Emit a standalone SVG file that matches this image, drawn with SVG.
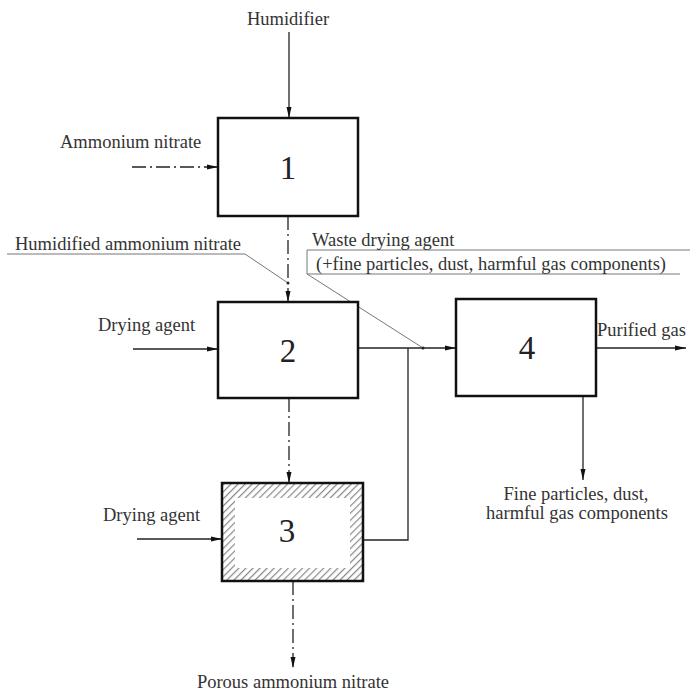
<svg xmlns="http://www.w3.org/2000/svg" width="690" height="692" viewBox="0 0 690 692">
<style>
text{font-family:"Liberation Serif","Times New Roman",serif;fill:#333;font-size:18.5px}
.num{font-size:33px;text-anchor:middle;fill:#222}
.box{fill:#fff;stroke:#111;stroke-width:2.5}
.ln{stroke:#222;stroke-width:1.3;fill:none}
.dd{stroke:#222;stroke-width:1.3;fill:none;stroke-dasharray:14 4 2 4}
.lead{stroke:#777;stroke-width:1;fill:none}
</style>
<defs>
<marker id="ar" markerUnits="userSpaceOnUse" markerWidth="11" markerHeight="6" refX="11" refY="3" orient="auto">
<path d="M0,0.5 L11,3 L0,5.5 z" fill="#111"/>
</marker>
<pattern id="hatch" patternUnits="userSpaceOnUse" width="5" height="5" patternTransform="rotate(45)">
<rect width="5" height="5" fill="#fff"/>
<line x1="0" y1="0" x2="0" y2="5" stroke="#888" stroke-width="2.4"/>
</pattern>
</defs>
<g id="connectors">
<line class="ln" x1="289" y1="32" x2="289" y2="118" marker-end="url(#ar)"/>
<line class="dd" x1="132" y1="167" x2="218" y2="167" marker-end="url(#ar)"/>
<line class="dd" x1="288" y1="216" x2="288" y2="302" marker-end="url(#ar)"/>
<line class="ln" x1="133" y1="349" x2="218" y2="349" marker-end="url(#ar)"/>
<line class="ln" x1="358" y1="348" x2="456" y2="348" marker-end="url(#ar)"/>
<polyline class="ln" points="363,540 408,540 408,348"/>
<line class="dd" x1="289" y1="398" x2="289" y2="483" marker-end="url(#ar)"/>
<line class="ln" x1="137" y1="539" x2="222" y2="539" marker-end="url(#ar)"/>
<line class="dd" x1="293" y1="581" x2="293" y2="668" marker-end="url(#ar)"/>
<line class="ln" x1="596" y1="348" x2="686" y2="348" marker-end="url(#ar)"/>
<line class="ln" x1="583" y1="396" x2="583" y2="480" marker-end="url(#ar)"/>
</g>
<g id="leaders">
<polyline class="lead" points="7,254 245,254 288,283"/>
<circle cx="288" cy="283" r="1.5" fill="#222"/>
<polyline class="lead" points="690,250 307,250 307,274 423,348"/>
<line class="lead" x1="307" y1="274" x2="680" y2="274"/>
<circle cx="423" cy="348" r="1.5" fill="#222"/>
</g>
<g id="node1">
<rect class="box" x="218" y="118" width="140" height="98"/>
<text class="num" x="288" y="179">1</text>
</g>
<g id="node2">
<rect class="box" x="218" y="302" width="140" height="96"/>
<text class="num" x="288" y="362">2</text>
</g>
<g id="node3">
<rect x="222" y="483" width="141" height="98" fill="url(#hatch)" stroke="#111" stroke-width="2.5"/>
<rect x="235" y="498" width="115" height="70" fill="#fff"/>
<text class="num" x="287" y="542">3</text>
</g>
<g id="node4">
<rect class="box" x="456" y="299" width="140" height="97"/>
<text class="num" x="527" y="359">4</text>
</g>
<g id="labels">
<text x="288" y="25" text-anchor="middle">Humidifier</text>
<text x="60" y="148">Ammonium nitrate</text>
<text x="15" y="250">Humidified ammonium nitrate</text>
<text x="312" y="246">Waste drying agent</text>
<text x="316" y="270">(+fine particles, dust, harmful gas components)</text>
<text x="98" y="331">Drying agent</text>
<text x="597" y="336">Purified gas</text>
<text x="103" y="521">Drying agent</text>
<text x="576" y="500" text-anchor="middle">Fine particles, dust,</text>
<text x="577" y="519" text-anchor="middle">harmful gas components</text>
<text x="293" y="688" text-anchor="middle">Porous ammonium nitrate</text>
</g>
</svg>
